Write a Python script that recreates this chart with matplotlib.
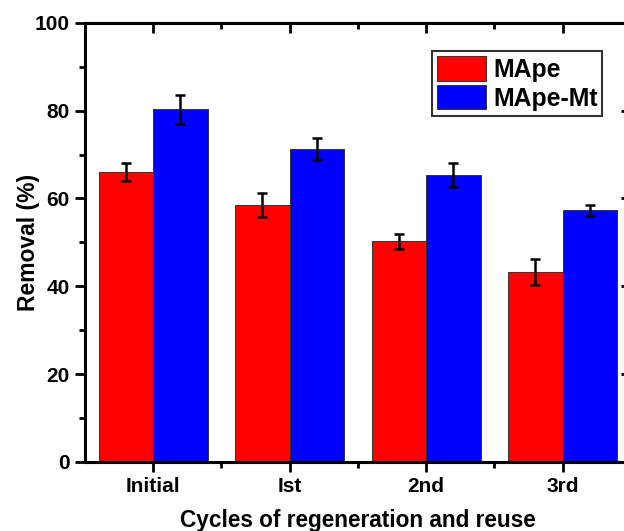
import matplotlib
matplotlib.use("Agg")
import matplotlib.pyplot as plt
import numpy as np
from matplotlib.ticker import MultipleLocator, FixedLocator

plt.rcParams['font.family'] = ['Liberation Sans', 'DejaVu Sans']
plt.rcParams['font.weight'] = 'bold'

cycles = ["Initial", "Ist", "2nd", "3rd"]
mape = [66.0, 58.5, 50.3, 43.3]
mape_err = [2.0, 2.7, 1.7, 3.0]
mape_mt = [80.3, 71.3, 65.3, 57.3]
mape_mt_err = [3.3, 2.5, 2.7, 1.3]

fig = plt.figure(figsize=(6.24, 5.31), dpi=100)
ax = fig.add_axes([0.136, 0.130, 0.875, 0.827])

x = np.arange(1, len(cycles) + 1)
w = 0.4
err_kw = dict(ecolor='black', elinewidth=1.8, capsize=3.5, capthick=1.8)
ax.bar(x - w / 2, mape, w, color='#ff0000', edgecolor='#333333', linewidth=0.7,
       yerr=mape_err, error_kw=err_kw, label='MApe', zorder=2)
ax.bar(x + w / 2, mape_mt, w, color='#0000ff', edgecolor='#333333', linewidth=0.7,
       yerr=mape_mt_err, error_kw=err_kw, label='MApe-Mt', zorder=2)

ax.set_xlim(0.5, 4.5)
ax.set_ylim(0, 100)
ax.set_xticks(x)
ax.set_xticklabels(cycles)
ax.xaxis.set_minor_locator(FixedLocator([1.5, 2.5, 3.5]))
ax.yaxis.set_major_locator(MultipleLocator(20))
ax.yaxis.set_minor_locator(MultipleLocator(10))

for s in ax.spines.values():
    s.set_linewidth(2.2)

ax.tick_params(which='major', length=7, width=2, labelsize=15, pad=4)
ax.tick_params(which='minor', length=4, width=2)
ax.tick_params(axis='x', which='both', top=True, direction='out')
ax.tick_params(axis='y', which='both', right=True, direction='out')
# inward ticks on the top and right edges
for t in ax.xaxis.get_major_ticks() + ax.xaxis.get_minor_ticks():
    t.tick2line.set_marker(3)
for t in ax.yaxis.get_major_ticks() + ax.yaxis.get_minor_ticks():
    t.tick2line.set_marker(0)
for lbl in ax.get_xticklabels() + ax.get_yticklabels():
    lbl.set_fontweight('bold')

ax.set_xlabel("Cycles of regeneration and reuse", fontsize=16.3, fontweight='bold', labelpad=9)
ax.set_ylabel("Removal (%)", fontsize=16.5, fontweight='bold', labelpad=-4)

leg = ax.legend(loc='upper right', bbox_to_anchor=(0.948, 0.935), fontsize=17.8,
                frameon=True, fancybox=False, edgecolor='black',
                handlelength=1.95, handleheight=1.15, handletextpad=0.3,
                borderpad=0.2, labelspacing=0.12, borderaxespad=0)
leg.get_frame().set_linewidth(1.5)
for t in leg.get_texts():
    t.set_fontweight('bold')

fig.savefig("out.png", dpi=100)
